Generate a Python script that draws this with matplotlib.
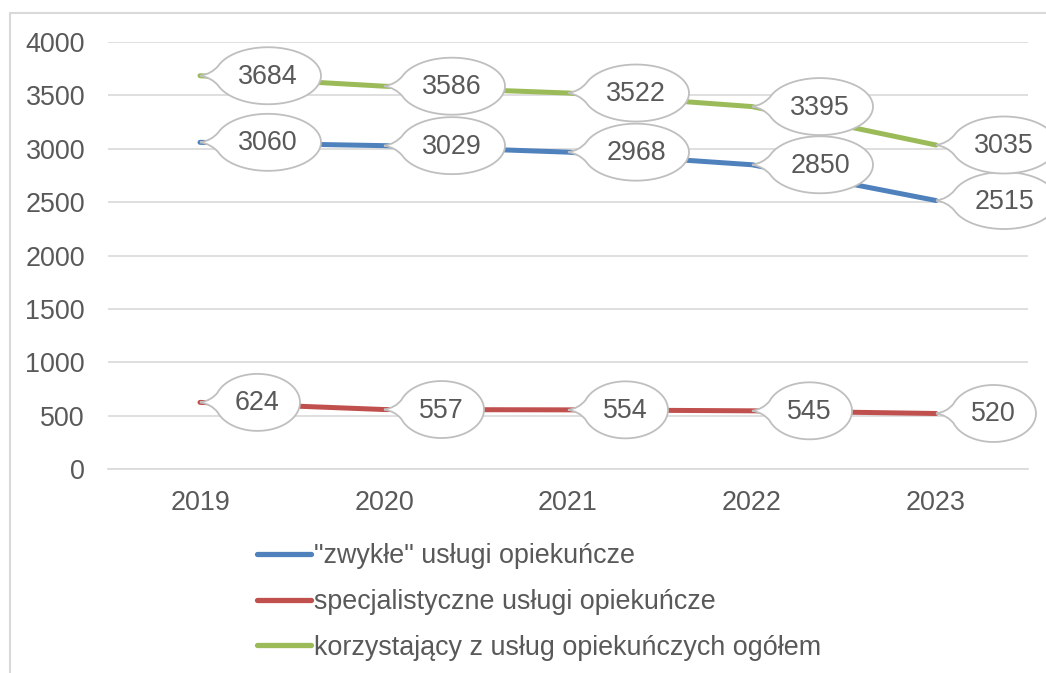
import numpy as np
import matplotlib
matplotlib.use("Agg")
import matplotlib.pyplot as plt
from matplotlib.path import Path
from matplotlib.patches import PathPatch, Rectangle
from matplotlib.lines import Line2D
from matplotlib.transforms import Affine2D, ScaledTranslation

# --- data ---------------------------------------------------------------
years = ["2019", "2020", "2021", "2022", "2023"]
zwykle = [3060, 3029, 2968, 2850, 2515]
specjalistyczne = [624, 557, 554, 545, 520]
ogolem = [3684, 3586, 3522, 3395, 3035]
series_names = [
    '"zwykłe" usługi opiekuńcze',
    'specjalistyczne usługi opiekuńcze',
    'korzystający z usług opiekuńczych ogółem',
]
y_ticks = [0, 500, 1000, 1500, 2000, 2500, 3000, 3500, 4000]

# --- style --------------------------------------------------------------
colors = ["#4f81bd", "#c0504d", "#9bbb59"]
text_color = "#595959"
grid_color = "#d9d9d9"
fs = 19.4

plt.rcParams['font.family'] = ['Liberation Sans', 'DejaVu Sans']

W, H = 1046, 673
fig = plt.figure(figsize=(W / 100, H / 100), dpi=100)
ax = fig.add_axes([108 / W, 1 - 469 / H, 920 / W, 427 / H])

x = np.arange(len(years))


def callout_path(a, b=28.5, gap=15, cy=0.0, delta=20, n=90):
    """Ellipse with a short tail whose tip sits at (0, 0), in pixels."""
    cx = gap + a
    d = np.radians(delta)
    t = np.linspace(np.pi + d, 3 * np.pi - d, n)
    ex = cx + a * np.cos(t)
    ey = cy + b * np.sin(t)
    verts = [(0, 0), (11, -1.5), (ex[0], ey[0])]
    codes = [Path.MOVETO, Path.CURVE3, Path.CURVE3]
    verts += list(zip(ex[1:], ey[1:]))
    codes += [Path.LINETO] * (n - 1)
    verts += [(11, 1.5), (0, 0), (0, 0)]
    codes += [Path.CURVE3, Path.CURVE3, Path.CLOSEPOLY]
    return Path(verts, codes), cx, cy


def add_callout(xv, yv):
    label = f"{yv}"
    a = 10.5 * len(label) + 11
    path, cx, cy = callout_path(a)
    anchor = ScaledTranslation(xv, yv, ax.transData)
    patch = PathPatch(path, transform=Affine2D() + anchor, facecolor="white",
                      edgecolor="#bfbfbf", lw=1.3, zorder=5, clip_on=False)
    ax.add_patch(patch)
    ax.text(0, 0, label, transform=Affine2D().translate(cx, cy - 1) + anchor,
            ha="center", va="center", fontsize=fs, color=text_color,
            zorder=6, clip_on=False)


for vals, col in zip([zwykle, specjalistyczne, ogolem], colors):
    ax.plot(x, vals, color=col, lw=3.6, solid_capstyle="round", zorder=3)
    for xi, vi in zip(x, vals):
        add_callout(xi, vi)

ax.set_xlim(-0.5, len(years) - 0.5)
ax.set_ylim(0, 4000)
ax.set_yticks(y_ticks)
ax.set_yticklabels([str(v) for v in y_ticks])
ax.set_xticks(x)
ax.set_xticklabels(years)
ax.tick_params(axis="y", length=0, pad=16.5, labelsize=fs, labelcolor=text_color)
ax.tick_params(axis="x", length=0, pad=15, labelsize=fs, labelcolor=text_color)
ax.grid(axis="y", color=grid_color, lw=1.2, zorder=0)
ax.set_axisbelow(True)
for side in ["left", "right", "top"]:
    ax.spines[side].set_visible(False)
ax.spines["bottom"].set_color(grid_color)
ax.spines["bottom"].set_linewidth(1.2)

handles = [Line2D([0], [0], color=c, lw=3.8, solid_capstyle="round") for c in colors]
fig.legend(handles, series_names, loc="upper left",
           bbox_to_anchor=(257 / W, 1 - 543 / H), frameon=False,
           fontsize=fs, labelcolor=text_color, handlelength=2.0,
           handletextpad=0.12, labelspacing=0.74, borderpad=0, borderaxespad=0)

# outer chart frame
fig.add_artist(Rectangle((9.5 / W, -0.2), 1.2, 1.2 - 13 / H,
                         transform=fig.transFigure, fill=False,
                         edgecolor=grid_color, lw=1.5))

fig.savefig("out.png", dpi=100)
